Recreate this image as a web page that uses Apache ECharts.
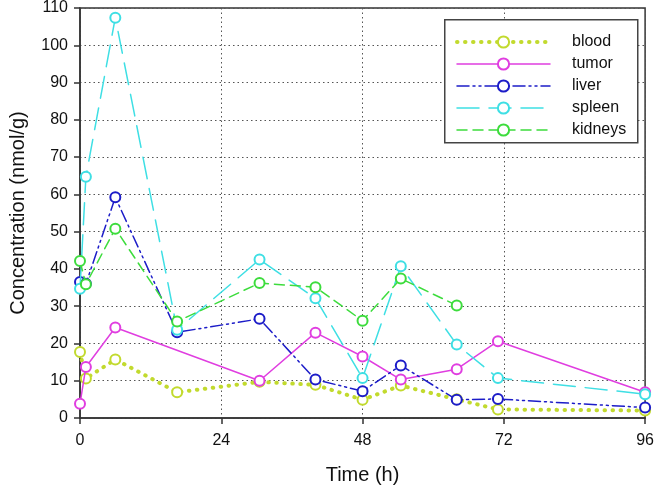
<!DOCTYPE html>
<html><head><meta charset="utf-8">
<script src="https://cdn.jsdelivr.net/npm/echarts@6/dist/echarts.min.js"></script>
<style>html,body{margin:0;padding:0;background:#fff}#c{width:657px;height:490px}</style>
</head><body><div id="c"></div>
<script>
const times = [0, 1, 6, 16.5, 30.5, 40, 48, 54.5, 64, 71, 96];
const seriesNames = ['blood', 'tumor', 'liver', 'spleen', 'kidneys'];
const blood   = [17.7, 10.6, 15.7, 6.9, 9.7, 8.9, 4.9, 8.7, 5.0, 2.3, 2.0];
const tumor   = [3.8, 13.7, 24.3, null, 10.0, 22.9, 16.5, 10.3, 13.1, 20.6, 6.9];
const liver   = [36.5, 36.0, 59.2, 23.0, 26.6, 10.3, 7.2, 14.1, 4.9, 5.1, 2.8];
const spleen  = [34.7, 64.7, 107.4, 23.7, 42.5, 32.1, 10.7, 40.7, 19.7, 10.7, 6.4];
const kidneys = [42.1, 35.9, 50.8, 25.9, 36.2, 35.1, 26.1, 37.4, 30.2, null, null];
const xTicks = [0, 24, 48, 72, 96];
const yTicks = [0, 10, 20, 30, 40, 50, 60, 70, 80, 90, 100, 110];

const colors = ['#c2da2e', '#e03ee0', '#1c1cc8', '#3edfe4', '#3ddc3d'];
const dashes = [[0.5, 7.5], 'solid', [12, 4, 2, 4, 2, 4], [22, 10], [10, 6]];
const widths = [4, 1.5, 1.5, 1.5, 1.5];
const values = [blood, tumor, liver, spleen, kidneys];

function pairs(v) {
  const out = [];
  for (let i = 0; i < times.length; i++) if (v[i] !== null) out.push([times[i], v[i]]);
  return out;
}

const font = 'Liberation Sans, Arial, sans-serif';
const chart = echarts.init(document.getElementById('c'), null, {renderer: 'canvas'});
chart.setOption({
  animation: false,
  backgroundColor: '#fff',
  grid: {left: 74, right: 9, top: 7, bottom: 69, show: true, borderColor: '#333', borderWidth: 1.5, backgroundColor: 'transparent'},
  xAxis: {
    type: 'value', min: xTicks[0], max: xTicks[xTicks.length - 1], interval: 24,
    name: 'Time (h)', nameLocation: 'middle', nameGap: 47,
    nameTextStyle: {fontFamily: font, fontSize: 20, color: '#111'},
    axisLine: {lineStyle: {color: '#333', width: 1.5}},
    axisTick: {show: true, inside: false, length: 6, lineStyle: {color: '#333', width: 1.5}},
    axisLabel: {fontFamily: font, fontSize: 16, color: '#111', margin: 15},
    splitLine: {show: true, lineStyle: {color: '#555', type: [1.5, 3], width: 1}}
  },
  yAxis: {
    type: 'value', min: yTicks[0], max: yTicks[yTicks.length - 1], interval: 10,
    name: 'Concentration (nmol/g)', nameLocation: 'middle', nameGap: 52,
    nameTextStyle: {fontFamily: font, fontSize: 20, color: '#111'},
    axisLine: {show: true, lineStyle: {color: '#333', width: 1.5}},
    axisTick: {show: true, inside: false, length: 6, lineStyle: {color: '#333', width: 1.5}},
    axisLabel: {fontFamily: font, fontSize: 16, color: '#111', margin: 12},
    splitLine: {show: true, lineStyle: {color: '#555', type: [1.5, 3], width: 1}}
  },
  graphic: [{
    type: 'rect', left: 444, top: 19, z: 5,
    shape: {width: 193, height: 123},
    style: {fill: '#fff', stroke: '#444', lineWidth: 1.5}
  }],
  legend: {
    data: seriesNames.map((n, i) => ({
      name: n,
      lineStyle: {color: colors[i], width: widths[i], type: dashes[i], cap: 'round'}
    })),
    orient: 'vertical', left: 455, top: 34, padding: 0,
    itemWidth: 93, itemHeight: 14, itemGap: 6, z: 10,
    textStyle: {fontFamily: font, fontSize: 16, color: '#111', padding: [0, 0, 0, 17]}
  },
  series: seriesNames.map((n, i) => ({
    name: n, type: 'line', data: pairs(values[i]),
    symbol: 'emptyCircle', symbolSize: 10, connectNulls: true,
    itemStyle: {color: colors[i], borderColor: colors[i], borderWidth: 1.5},
    lineStyle: {color: colors[i], width: widths[i], type: dashes[i], cap: 'round'},
    z: 2 + i
  }))
});
</script></body></html>
